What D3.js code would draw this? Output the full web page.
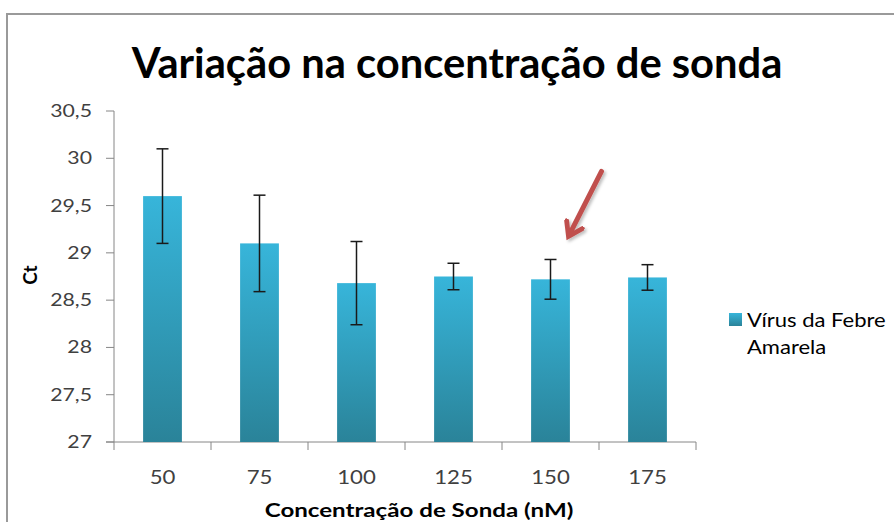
<!DOCTYPE html>
<html>
<head>
<meta charset="utf-8">
<script src="https://cdn.jsdelivr.net/npm/d3@7"></script>
<style>
  html, body { margin: 0; padding: 0; background: #fff; }
  svg { display: block; font-family: Lato, 'Open Sans', sans-serif; }
</style>
</head>
<body>
<svg id="chart" width="894" height="522"></svg>
<script>
// data
const categories = ['50', '75', '100', '125', '150', '175'];
const ctValues = [29.6, 29.1, 28.68, 28.75, 28.72, 28.74];
const ctErrors = [0.5, 0.51, 0.44, 0.14, 0.21, 0.135];
const yTicks = [27, 27.5, 28, 28.5, 29, 29.5, 30, 30.5];
const seriesName = ['Vírus da Febre', 'Amarela'];
const title = 'Variação na concentração de sonda';
const xTitle = 'Concentração de Sonda (nM)';
const yTitle = 'Ct';
const highlighted = '150';

const svg = d3.select('#chart');
const plot = { left: 114, right: 696, top: 111, bottom: 442 };

const x = d3.scaleBand()
  .domain(categories)
  .range([plot.left, plot.right])
  .paddingInner(0.6)
  .paddingOuter(0.3);

const y = d3.scaleLinear()
  .domain([27, 30.5])
  .range([plot.bottom, plot.top]);

const ptBr = d3.formatLocale({ decimal: ',', thousands: '.', grouping: [3], currency: ['R$', ''] });
const fmt = (v) => ptBr.format('~g')(v);

// the original picture is a bit stretched sideways, so texts get a x-scale
function stretchedText(parent, px, py, sx) {
  return parent.append('g')
    .attr('transform', `translate(${px},${py}) scale(${sx},1)`)
    .append('text');
}

// gradient for bars
const defs = svg.append('defs');
const grad = defs.append('linearGradient')
  .attr('id', 'barGrad')
  .attr('x1', 0).attr('y1', 0).attr('x2', 0).attr('y2', 1);
grad.append('stop').attr('offset', '0%').attr('stop-color', '#37b5da');
grad.append('stop').attr('offset', '100%').attr('stop-color', '#2a8399');

const shadow = defs.append('filter').attr('id', 'arrowShadow')
  .attr('x', '-50%').attr('y', '-50%').attr('width', '200%').attr('height', '200%');
shadow.append('feDropShadow')
  .attr('dx', 2).attr('dy', 2).attr('stdDeviation', 1.5)
  .attr('flood-color', '#000').attr('flood-opacity', 0.25);

defs.append('marker')
  .attr('id', 'arrowHead')
  .attr('viewBox', '0 0 10 10')
  .attr('refX', 6).attr('refY', 5)
  .attr('markerWidth', 4.4).attr('markerHeight', 4.4)
  .attr('orient', 'auto')
  .append('path')
  .attr('d', 'M1,1 L7,5 L1,9')
  .attr('fill', 'none')
  .attr('stroke', '#c0504d')
  .attr('stroke-width', 2.2)
  .attr('stroke-linecap', 'round')
  .attr('stroke-linejoin', 'miter');

// frame of the chart area
svg.append('path')
  .attr('d', 'M7,522 L7,14 L894,14')
  .attr('fill', 'none')
  .attr('stroke', '#9a9a9a')
  .attr('stroke-width', 2);

// title
const titleText = svg.append('text')
  .attr('x', 457)
  .attr('y', 78)
  .attr('text-anchor', 'middle')
  .attr('font-weight', 'bold')
  .attr('font-size', 44)
  .attr('fill', '#000')
  .text(title);
const tw = titleText.node().getComputedTextLength();
titleText.attr('font-size', 44 * 651 / tw);

// y axis
const yAxis = svg.append('g');
yAxis.append('line')
  .attr('x1', plot.left).attr('x2', plot.left)
  .attr('y1', y(30.5)).attr('y2', y(27))
  .attr('stroke', '#868686').attr('stroke-width', 1);
yAxis.selectAll('line.tick')
  .data(yTicks)
  .join('line')
  .attr('class', 'tick')
  .attr('x1', plot.left - 8).attr('x2', plot.left)
  .attr('y1', (d) => y(d)).attr('y2', (d) => y(d))
  .attr('stroke', '#868686').attr('stroke-width', 1);
yTicks.forEach((d) => {
  stretchedText(yAxis, 92, y(d), 1.25)
    .attr('dy', '0.35em')
    .attr('text-anchor', 'end')
    .attr('font-size', 17)
    .attr('fill', '#404040')
    .text(fmt(d));
});

// x axis
const step = x.step();
const bounds = categories.map((c) => x(c) + x.bandwidth() / 2 - step / 2);
bounds.push(x(categories[categories.length - 1]) + x.bandwidth() / 2 + step / 2);
const xAxis = svg.append('g');
xAxis.append('line')
  .attr('x1', plot.left - 8).attr('x2', plot.right)
  .attr('y1', plot.bottom).attr('y2', plot.bottom)
  .attr('stroke', '#868686').attr('stroke-width', 1);
xAxis.selectAll('line.tick')
  .data(bounds)
  .join('line')
  .attr('class', 'tick')
  .attr('x1', (d) => d).attr('x2', (d) => d)
  .attr('y1', plot.bottom).attr('y2', plot.bottom + 8)
  .attr('stroke', '#868686').attr('stroke-width', 1);
categories.forEach((c) => {
  stretchedText(xAxis, x(c) + x.bandwidth() / 2, 484, 1.2)
    .attr('text-anchor', 'middle')
    .attr('font-size', 18.5)
    .attr('fill', '#404040')
    .text(c);
});

// bars
svg.append('g')
  .selectAll('rect')
  .data(categories)
  .join('rect')
  .attr('x', (d) => x(d))
  .attr('width', x.bandwidth())
  .attr('y', (d, i) => y(ctValues[i]))
  .attr('height', (d, i) => y(27) - y(ctValues[i]))
  .attr('fill', 'url(#barGrad)');

// error bars
const err = svg.append('g')
  .attr('stroke', '#1a1a1a')
  .attr('stroke-width', 1.5)
  .selectAll('g')
  .data(categories)
  .join('g');
err.append('line')
  .attr('x1', (d) => x(d) + x.bandwidth() / 2)
  .attr('x2', (d) => x(d) + x.bandwidth() / 2)
  .attr('y1', (d, i) => y(ctValues[i] + ctErrors[i]))
  .attr('y2', (d, i) => y(ctValues[i] - ctErrors[i]));
[1, -1].forEach((sgn) => {
  err.append('line')
    .attr('x1', (d) => x(d) + x.bandwidth() / 2 - 6)
    .attr('x2', (d) => x(d) + x.bandwidth() / 2 + 6)
    .attr('y1', (d, i) => y(ctValues[i] + sgn * ctErrors[i]))
    .attr('y2', (d, i) => y(ctValues[i] + sgn * ctErrors[i]));
});

// red arrow pointing at the highlighted bar
const hi = categories.indexOf(highlighted);
const tipX = x(highlighted) + x.bandwidth() / 2 + 17;
const tipY = y(ctValues[hi] + ctErrors[hi]) - 20;
svg.append('line')
  .attr('x1', tipX + 34).attr('y1', tipY - 68)
  .attr('x2', tipX + 2).attr('y2', tipY - 5)
  .attr('stroke', '#c0504d')
  .attr('stroke-width', 5)
  .attr('stroke-linecap', 'round')
  .attr('marker-end', 'url(#arrowHead)')
  .attr('filter', 'url(#arrowShadow)');

// axis titles
svg.append('text')
  .attr('transform', 'translate(37,275) rotate(-90)')
  .attr('text-anchor', 'middle')
  .attr('font-weight', 'bold')
  .attr('font-size', 19)
  .attr('fill', '#000')
  .text(yTitle);

stretchedText(svg, 419, 517, 1.27)
  .attr('text-anchor', 'middle')
  .attr('font-weight', 'bold')
  .attr('font-size', 19)
  .attr('fill', '#000')
  .text(xTitle);

// legend
const legend = svg.append('g');
legend.append('rect')
  .attr('x', 729).attr('y', 313)
  .attr('width', 13).attr('height', 13)
  .attr('fill', 'url(#barGrad)');
seriesName.forEach((d, i) => {
  stretchedText(legend, 747, 327 + i * 27, 1.16)
    .attr('font-size', 19)
    .attr('fill', '#000')
    .text(d);
});
</script>
</body>
</html>
